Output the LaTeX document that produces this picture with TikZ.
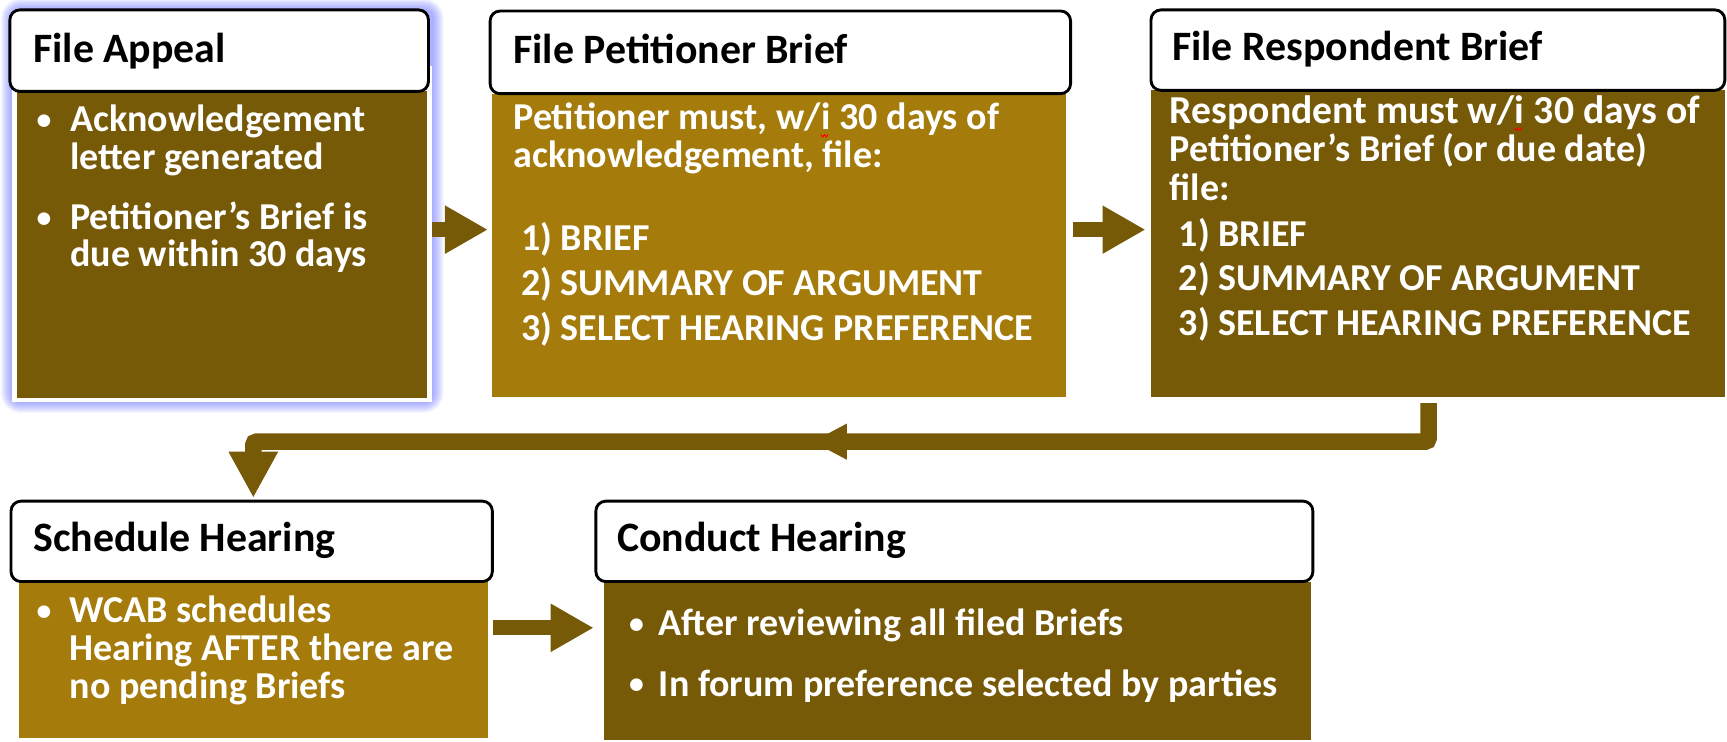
\documentclass[tikz,border=0pt]{standalone}
\usepackage{fontspec}
\setmainfont{Carlito}
\usetikzlibrary{arrows.meta}
\definecolor{darkb}{RGB}{119,90,8}
\definecolor{lightb}{RGB}{165,124,11}
\definecolor{glowc}{RGB}{100,110,255}
\begin{document}
\begin{tikzpicture}[x=1pt,y=-1pt,
  hdr/.style={draw=black,line width=2.6pt,fill=white,rounded corners=9pt,anchor=north west,inner sep=0pt,outer sep=0pt},
  bodybox/.style={anchor=north west,inner sep=0pt,outer sep=0pt,draw=none},
  htext/.style={anchor=base west,inner sep=0pt,font=\fontsize{38}{44}\selectfont\bfseries,text=black},
  btext/.style={anchor=base west,inner sep=0pt,font=\fontsize{34.5}{40}\selectfont\bfseries,text=white},
  bullet/.style={anchor=base,inner sep=0pt,yshift=2pt,font=\fontsize{27}{30}\selectfont\bfseries,text=white},
  flow/.style={draw=darkb,line width=13.5pt,line cap=butt,-{Triangle[length=39pt 0 0,width=41pt 0 0]}},
  squig/.style={draw=red,line width=0.9pt},
]
\useasboundingbox (0,0) rectangle (1568,673);
\fill[white] (0,0) rectangle (1568,673);

% glow around first box
\foreach \i in {1,...,12}
  \draw[glowc,opacity=0.06,line width=\i*1.7pt,rounded corners=8pt] (11,9) rectangle (392.5,364.7);
\fill[white] (11,60) rectangle (392.5,364.7);

% bodies
\node[bodybox,fill=darkb,minimum width=373pt,minimum height=278pt] (bd1) at (15,83) {};
\node[bodybox,fill=lightb,minimum width=521pt,minimum height=275pt] (bd2) at (447,85) {};
\node[bodybox,fill=darkb,minimum width=521pt,minimum height=278pt] (bd3) at (1045,82) {};
\node[bodybox,fill=lightb,minimum width=426pt,minimum height=142pt] (bd4) at (17,528) {};
\node[bodybox,fill=darkb,minimum width=642pt,minimum height=144pt] (bd5) at (548,528) {};

% headers
\node[hdr,minimum width=380pt,minimum height=74pt] (hd1) at (9,9) {};
\node[hdr,minimum width=527pt,minimum height=75pt] (hd2) at (445,10) {};
\node[hdr,minimum width=521pt,minimum height=73pt] (hd3) at (1045,9) {};
\node[hdr,minimum width=437pt,minimum height=73pt] (hd4) at (10,455) {};
\node[hdr,minimum width=651pt,minimum height=73pt] (hd5) at (541,455) {};

% header texts
\node[htext] (h1) at (30,57) {File Appeal};
\node[htext] (h2) at (466,57.5) {File Petitioner Brief};
\node[htext] (h3) at (1064,55) {File Respondent Brief};
\node[htext] (h4) at (30,501) {Schedule Hearing};
\node[htext] (h5) at (560,501) {Conduct Hearing};

% box 1 text
\node[bullet] (p1) at (40,119.6) {•};
\node[btext] (t1a) at (63.6,119.6) {Acknowledgement};
\node[btext] (t1b) at (63.6,154.3) {letter generated};
\node[bullet] (p2) at (40,208.8) {•};
\node[btext] (t1c) at (63.6,208.8) {Petitioner’s Brief is};
\node[btext] (t1d) at (63.6,242) {due within 30 days};

% box 2 text
\node[btext] (t2a) at (466,118) {Petitioner must, w/};
\node[btext] (t2i) at (t2a.base east) {i};
\node[btext] (t2r) at (t2i.base east) {\ 30 days of};
\draw[squig] ([yshift=-4pt]t2i.south west) -- ++(1.6,2.2) -- ++(1.6,-2.2) -- ++(1.6,2.2) -- ++(1.6,-2.2);
\node[btext] (t2b) at (466,152.5) {acknowledgement, file:};
\node[btext] (t2c) at (473,227) {1) BRIEF};
\node[btext] (t2d) at (473,268) {2) SUMMARY OF ARGUMENT};
\node[btext] (t2e) at (473,309) {3) SELECT HEARING PREFERENCE};

% box 3 text
\node[btext,font=\fontsize{36}{40}\selectfont\bfseries] (t3a) at (1062,112) {Respondent must w/};
\node[btext,font=\fontsize{36}{40}\selectfont\bfseries] (t3i) at (t3a.base east) {i};
\node[btext,font=\fontsize{36}{40}\selectfont\bfseries] (t3r) at (t3i.base east) {\ 30 days of};
\draw[squig] ([yshift=-4pt]t3i.south west) -- ++(1.6,2.2) -- ++(1.6,-2.2) -- ++(1.6,2.2) -- ++(1.6,-2.2);
\node[btext] (t3b) at (1062,147) {Petitioner’s Brief (or due date)};
\node[btext] (t3c) at (1062,182) {file:};
\node[btext] (t3d) at (1070,224) {1) BRIEF};
\node[btext] (t3e) at (1070,264) {2) SUMMARY OF ARGUMENT};
\node[btext] (t3f) at (1070,305) {3) SELECT HEARING PREFERENCE};

% box 4 text
\node[bullet] (p3) at (40,565) {•};
\node[btext] (t4a) at (63,565) {WCAB schedules};
\node[btext] (t4b) at (63,600) {Hearing AFTER there are};
\node[btext] (t4c) at (63,634) {no pending Briefs};

% box 5 text
\node[bullet] (p4) at (578,577) {•};
\node[btext] (t5a) at (598,577) {After reviewing all filed Briefs};
\node[bullet] (p5) at (578,632) {•};
\node[btext] (t5b) at (598,632) {In forum preference selected by parties};

% connectors
\coordinate (a1s) at (392,208.5);
\draw[flow] (a1s) -- ([xshift=-4pt]bd2.west |- a1s);
\coordinate (a2s) at (974,208.5);
\draw[flow] (a2s) -- ([xshift=-5pt]bd3.west |- a2s);
\coordinate (a4s) at (448,570);
\draw[flow] (a4s) -- ([xshift=-9pt]bd5.west |- a4s);

\coordinate (ba) at (1297,366);
\coordinate (bend1) at (1297,401);
\coordinate (bend2) at (230,401);
\coordinate (bb) at (230,452);
\draw[draw=darkb,line width=15pt,line cap=butt,rounded corners=3pt,-{Triangle[length=42pt 0 0,width=42pt 0 0]}] (ba) -- (bend1) -- (bend2) -- (bb);
\fill[darkb] (738,401) -- (769,384.5) -- (769,417.5) -- cycle;
\end{tikzpicture}
\end{document}
